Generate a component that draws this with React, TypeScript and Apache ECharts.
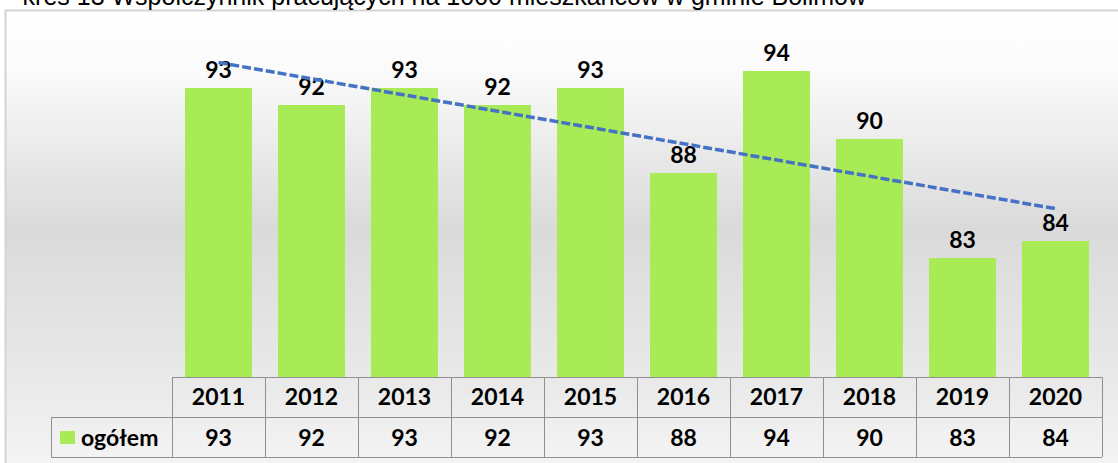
import React, { useEffect, useRef } from "react";
import * as echarts from "echarts";

const titleText = "kres 13 Współczynnik pracujących na 1000 mieszkańców w gminie Bolimów";
const years = ["2011", "2012", "2013", "2014", "2015", "2016", "2017", "2018", "2019", "2020"];
const values = [93, 92, 93, 92, 93, 88, 94, 90, 83, 84];
const seriesName = "ogółem";
// trend line end points (first and last category)
const trendValues = [94.5, 85.9];

const W = 1118;
const H = 463;
const GRID_L = 172;
const GRID_R = 1102;
const AXIS_Y = 377;
const ROW_Y = 417;
const BOT_Y = 457;
const TABLE_L = 51;
const LINE_C = "#8f8f8f";
const BAR_C = "#A9EA57";
const FONT = "Lato, 'Open Sans', sans-serif";
const FS = 23;

export default function App() {
  const ref = useRef<HTMLDivElement>(null);
  useEffect(() => {
    document.body.style.margin = "0";
    const chart = echarts.init(ref.current!, null, { renderer: "svg" });
    const n = years.length;
    const cw = (GRID_R - GRID_L) / n;
    const lines: any[] = [];
    const hl = (x1: number, x2: number, y: number) =>
      lines.push({ type: "line", shape: { x1, y1: y, x2, y2: y }, style: { stroke: LINE_C, lineWidth: 1 }, z: 10 });
    const vl = (x: number, y1: number, y2: number) =>
      lines.push({ type: "line", shape: { x1: x, y1, x2: x, y2 }, style: { stroke: LINE_C, lineWidth: 1 }, z: 10 });
    hl(GRID_L, GRID_R, AXIS_Y + 0.5);
    hl(TABLE_L, GRID_R, ROW_Y + 0.5);
    hl(TABLE_L, GRID_R, BOT_Y + 0.5);
    for (let k = 0; k <= n; k++) vl(Math.round(GRID_L + k * cw) + 0.5, AXIS_Y, BOT_Y);
    vl(TABLE_L + 0.5, ROW_Y, BOT_Y);

    chart.setOption({
      animation: false,
      graphic: [
        {
          type: "rect",
          shape: { x: 5.5, y: 10.5, width: W + 20, height: H + 20 },
          style: {
            fill: new echarts.graphic.LinearGradient(0, 0, 0, 1, [
              { offset: 0, color: "#ffffff" },
              { offset: 0.12, color: "#fbfbfb" },
              { offset: 0.45, color: "#dadada" },
              { offset: 0.8, color: "#ebebeb" },
              { offset: 1, color: "#f8f8f8" },
            ]),
            stroke: "#d4d4d4",
            lineWidth: 2,
          },
          z: -10,
          silent: true,
        },
        {
          type: "text",
          x: 866,
          y: 8,
          style: {
            text: titleText,
            font: "25px 'Liberation Sans', Arial, sans-serif",
            fill: "#000",
            align: "right",
            verticalAlign: "bottom",
          },
          z: 10,
        },
        ...lines,
        {
          type: "rect",
          shape: { x: 60, y: 431, width: 15, height: 13 },
          style: { fill: BAR_C },
          z: 10,
        },
        {
          type: "text",
          x: 81,
          y: 437,
          style: {
            text: seriesName,
            font: `bold ${FS}px ${FONT}`,
            fill: "#000",
            verticalAlign: "middle",
          },
          z: 10,
        },
      ],
      grid: { left: GRID_L, right: W - GRID_R, top: 37, bottom: H - AXIS_Y },
      xAxis: [
        {
          type: "category",
          data: years,
          position: "bottom",
          axisLine: { show: false },
          axisTick: { show: false },
          axisLabel: { interval: 0, margin: 7, fontFamily: FONT, fontWeight: "bold", fontSize: FS, color: "#000", lineHeight: FS },
        },
        {
          type: "category",
          data: values.map((v) => String(v)),
          position: "bottom",
          offset: ROW_Y - AXIS_Y,
          axisLine: { show: false },
          axisTick: { show: false },
          axisLabel: { interval: 0, margin: 8, fontFamily: FONT, fontWeight: "bold", fontSize: FS, color: "#000", lineHeight: FS },
        },
      ],
      yAxis: { type: "value", min: 76, max: 96, show: false, splitLine: { show: false } },
      series: [
        {
          name: seriesName,
          type: "bar",
          data: values,
          barWidth: "72%",
          itemStyle: { color: BAR_C },
          z: 2,
          label: {
            show: true,
            position: "top",
            distance: 8,
            fontFamily: FONT,
            fontWeight: "bold",
            fontSize: FS,
            lineHeight: FS,
            color: "#000",
          },
        },
        {
          name: "trend",
          type: "line",
          data: [
            [0, trendValues[0]],
            [n - 1, trendValues[1]],
          ],
          symbol: "none",
          z: 5,
          lineStyle: { color: "#4472C4", width: 3.5, type: [9, 3] },
        },
      ],
    });
    return () => chart.dispose();
  }, []);
  return <div ref={ref} style={{ width: W, height: H }} />;
}
